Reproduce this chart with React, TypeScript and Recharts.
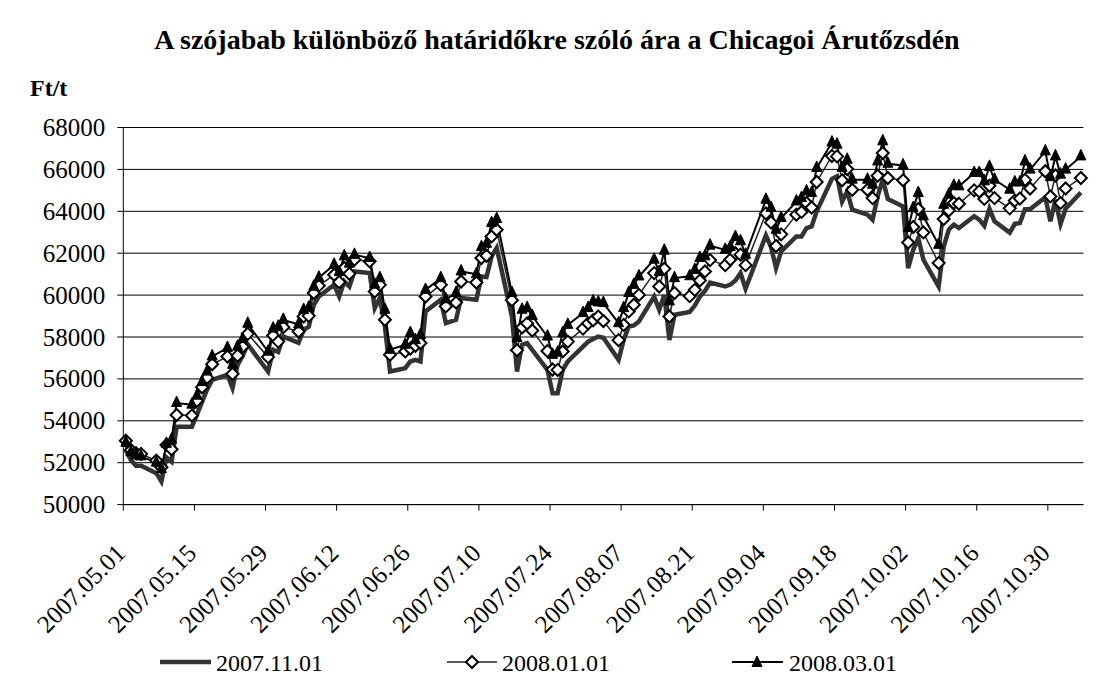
import React from "react";
import { LineChart, Line, XAxis, YAxis, CartesianGrid } from "recharts";

// trading days (Chicago Board of Trade), 2007
const dates = [
  "2007.05.01", "2007.05.02", "2007.05.03", "2007.05.04", "2007.05.07", "2007.05.08", "2007.05.09", "2007.05.10", "2007.05.11",
  "2007.05.14", "2007.05.15", "2007.05.16", "2007.05.17", "2007.05.18", "2007.05.21", "2007.05.22", "2007.05.23", "2007.05.24",
  "2007.05.25", "2007.05.29", "2007.05.30", "2007.05.31",
  "2007.06.01", "2007.06.04", "2007.06.05", "2007.06.06", "2007.06.07", "2007.06.08", "2007.06.11", "2007.06.12", "2007.06.13",
  "2007.06.14", "2007.06.15", "2007.06.18", "2007.06.19", "2007.06.20", "2007.06.21", "2007.06.22", "2007.06.25", "2007.06.26",
  "2007.06.27", "2007.06.28", "2007.06.29",
  "2007.07.02", "2007.07.03", "2007.07.05", "2007.07.06", "2007.07.09", "2007.07.10", "2007.07.11", "2007.07.12", "2007.07.13",
  "2007.07.16", "2007.07.17", "2007.07.18", "2007.07.19", "2007.07.20", "2007.07.23", "2007.07.24", "2007.07.25", "2007.07.26",
  "2007.07.27", "2007.07.30", "2007.07.31",
  "2007.08.01", "2007.08.02", "2007.08.03", "2007.08.06", "2007.08.07", "2007.08.08", "2007.08.09", "2007.08.10", "2007.08.13",
  "2007.08.14", "2007.08.15", "2007.08.16", "2007.08.17", "2007.08.20", "2007.08.21", "2007.08.22", "2007.08.23", "2007.08.24",
  "2007.08.27", "2007.08.28", "2007.08.29", "2007.08.30", "2007.08.31",
  "2007.09.04", "2007.09.05", "2007.09.06", "2007.09.07", "2007.09.10", "2007.09.11", "2007.09.12", "2007.09.13", "2007.09.14",
  "2007.09.17", "2007.09.18", "2007.09.19", "2007.09.20", "2007.09.21", "2007.09.24", "2007.09.25", "2007.09.26", "2007.09.27",
  "2007.09.28",
  "2007.10.01", "2007.10.02", "2007.10.03", "2007.10.04", "2007.10.05", "2007.10.08", "2007.10.09", "2007.10.10", "2007.10.11",
  "2007.10.12", "2007.10.15", "2007.10.16", "2007.10.17", "2007.10.18", "2007.10.19", "2007.10.22", "2007.10.23", "2007.10.24",
  "2007.10.25", "2007.10.26", "2007.10.29", "2007.10.30", "2007.10.31",
  "2007.11.01", "2007.11.02", "2007.11.05",
];

// Ft/t, contract 2007.11.01
const nov01 = [
  52600, 52130, 51850, 51850, 51500, 51100, 52250, 52050, 53720, 53720, 54300, 54900, 55500, 55950, 56190, 55570, 56670, 57100, 57650, 56350, 57390, 57290,
  58020, 57720, 58340, 58490, 59540, 59930, 60490, 59930, 60650, 60410, 61130, 61050, 59380, 59860, 58500, 56350, 56510, 56830, 56910, 56830, 59220,
  59780, 58660, 58820, 59860, 59780, 60890, 60860, 61850, 62250, 58980, 56350, 57630, 57710, 57390, 56430, 55320, 55320, 56430, 56830, 57540, 57780,
  57900, 58020, 57960, 56910, 57860, 58500, 58550, 58740, 59930, 59300, 60010, 57860, 59060, 59200, 59500, 59930, 60200, 60600, 60410, 60500, 60700, 61050, 60300,
  62850, 62300, 61290, 62080, 62800, 62800, 63200, 63280, 64000, 65550, 65670, 64470, 64950, 64080, 63840, 63600, 64710, 65510, 64590,
  64230, 61290, 62160, 62720, 61690, 60410, 62320, 63120, 63360, 63200, 63760, 63600, 63310, 64120, 63520, 62980, 63400, 63440, 64100, 64100, 64670, 63520, 64550,
  63400, 64120, 64900,
];

// contract 2008.01.01
const jan01 = [
  53050, 52610, 52450, 52420, 52100, 51780, 52850, 52640, 54280, 54250, 54960, 55600, 56060, 56700, 57070, 56240, 57110, 57540, 58150, 57040, 58070, 57780,
  58470, 58260, 58980, 59010, 60100, 60450, 60970, 60620, 61290, 61020, 61690, 61610, 60170, 60490, 58820, 57150, 57310, 57450, 57580, 57710, 59930,
  60490, 59460, 59650, 60650, 60600, 61770, 61880, 62800, 63120, 59760, 57370, 58450, 58650, 58310, 57330, 56450, 56430, 57310, 57780, 58400, 58650,
  58800, 58980, 58760, 57850, 58580, 59220, 59540, 60010, 61050, 60410, 61260, 58980, 60100, 59950, 60250, 60700, 61130, 61670, 61430, 61700, 62000, 61930, 61430,
  63900, 63470, 62340, 62900, 63840, 63970, 64400, 64180, 65400, 66640, 66620, 65480, 66020, 65030, 65030, 64630, 65700, 66780, 65590,
  65480, 62510, 63250, 64110, 62990, 61530, 63630, 64040, 64400, 64360, 65000, 64950, 64590, 65220, 64630, 64140, 64510, 64610, 65500, 65090, 65910, 64710, 65710,
  64400, 65090, 65590,
];

// contract 2008.03.01
const mar01 = [
  52950, 52500, 52350, 52300, 52000, 51700, 52900, 53100, 54850, 54770, 55200, 55850, 56350, 57070, 57480, 56670, 57540, 57900, 58630, 57300, 58400, 58490,
  58820, 58600, 59290, 59400, 60400, 60830, 61450, 61100, 61850, 61500, 61920, 61770, 60500, 60810, 59300, 57390, 57630, 58190, 57850, 58100, 60250,
  60810, 59800, 60100, 61130, 61000, 62290, 62450, 63440, 63630, 60100, 57950, 59300, 59380, 59000, 58020, 57150, 57250, 58180, 58580, 59140, 59380,
  59700, 59650, 59620, 58660, 59380, 60100, 60490, 60890, 61690, 61100, 62120, 59700, 60810, 60900, 61200, 61770, 61850, 62360, 62160, 62300, 62770, 62570, 61930,
  64550, 64160, 63120, 63680, 64470, 64630, 64950, 64870, 66070, 67280, 67180, 66070, 66460, 65510, 65510, 65270, 66380, 67340, 66270,
  66190, 63200, 64150, 64870, 63760, 62400, 64310, 64790, 65220, 65190, 65830, 65830, 65430, 66120, 65510, 65030, 65380, 65380, 66380, 65990, 66860, 65630, 66620,
  65750, 65990, 66620,
];

const xTickLabels = [
  "2007.05.01", "2007.05.15", "2007.05.29", "2007.06.12", "2007.06.26", "2007.07.10", "2007.07.24",
  "2007.08.07", "2007.08.21", "2007.09.04", "2007.09.18", "2007.10.02", "2007.10.16", "2007.10.30",
];
const yTicks = [50000, 52000, 54000, 56000, 58000, 60000, 62000, 64000, 66000, 68000];

const START = Date.UTC(2007, 4, 1);
const dayOf = (s: string) => {
  const [y, m, d] = s.split(".").map(Number);
  return Math.round((Date.UTC(y, m - 1, d) - START) / 86400000);
};

// points sit in the middle of their day slot, like Excel's date axis
const data = dates.map((d, i) => ({
  day: dayOf(d) + 0.5,
  nov01: nov01[i],
  jan01: jan01[i],
  mar01: mar01[i],
}));
const xTicks = xTickLabels.map(dayOf);

const FONT = "Liberation Serif, DejaVu Serif, serif";
const txt = { fontFamily: FONT };

const XTick = ({ x, y, payload }: any) => {
  const label = xTickLabels[xTicks.indexOf(payload.value)];
  const tx = x + 3.5;
  const ty = y + 42;
  return (
    <text x={tx} y={ty} transform={`rotate(-45 ${tx} ${ty})`} textAnchor="end" fontSize={25} style={txt} fill="#000">
      {label}
    </text>
  );
};

const YTick = ({ x, y, payload }: any) => (
  <text x={x - 3} y={y + 8.5} textAnchor="end" fontSize={25} style={txt} fill="#000">
    {payload.value}
  </text>
);

const Diamond = ({ cx, cy, index }: any) => {
  if (cx == null || cy == null) return <g key={index} />;
  const r = 6;
  return (
    <path
      key={index}
      d={`M${cx} ${cy - r}L${cx + r} ${cy}L${cx} ${cy + r}L${cx - r} ${cy}Z`}
      fill="#fff"
      stroke="#000"
      strokeWidth={2}
    />
  );
};

const Triangle = ({ cx, cy, index }: any) => {
  if (cx == null || cy == null) return <g key={index} />;
  return <path key={index} d={`M${cx} ${cy - 7}L${cx + 5} ${cy + 3.5}L${cx - 5} ${cy + 3.5}Z`} fill="#000" stroke="#000" strokeWidth={1} />;
};

export default function App() {
  return (
    <div style={{ position: "relative", width: 1104, height: 681, margin: -8, background: "#fff", fontFamily: FONT }}>
      <LineChart width={1104} height={681} data={data} margin={{ top: 127.5, right: 20.6, bottom: 76.4, left: 23.3 }}>
        <CartesianGrid vertical={false} stroke="#000" strokeWidth={1} />
        <XAxis
          dataKey="day"
          type="number"
          domain={[0, 189]}
          ticks={xTicks}
          interval={0}
          height={100}
          tickSize={6}
          tickLine={{ stroke: "#000" }}
          axisLine={{ stroke: "#000" }}
          tick={<XTick />}
        />
        <YAxis
          domain={[50000, 68000]}
          ticks={yTicks}
          interval={0}
          width={100}
          tickSize={6}
          tickMargin={9}
          tickLine={{ stroke: "#000" }}
          axisLine={{ stroke: "#000" }}
          tick={<YTick />}
        />
        <Line type="linear" dataKey="nov01" stroke="#333333" strokeWidth={4.5} dot={false} isAnimationActive={false} />
        <Line type="linear" dataKey="jan01" stroke="#222" strokeWidth={1.5} dot={<Diamond />} isAnimationActive={false} />
        <Line type="linear" dataKey="mar01" stroke="#000" strokeWidth={2} dot={<Triangle />} isAnimationActive={false} />
      </LineChart>
      <svg width={1104} height={681} style={{ position: "absolute", left: 0, top: 0, pointerEvents: "none" }}>
        <line x1={7.5} y1={0} x2={7.5} y2={681} stroke="#000" strokeWidth={1} />
        <text x={557} y={49} textAnchor="middle" fontSize={28} fontWeight="bold" style={txt} fill="#000">
          A szójabab különböző határidőkre szóló ára a Chicagoi Árutőzsdén
        </text>
        <text x={30} y={96} fontSize={24} fontWeight="bold" style={txt} fill="#000">
          Ft/t
        </text>
        <line x1={160} y1={662} x2={211} y2={662} stroke="#333333" strokeWidth={4.5} />
        <text x={216} y={671} fontSize={24} style={txt} fill="#000">2007.11.01</text>
        <line x1={447} y1={662} x2={497} y2={662} stroke="#222" strokeWidth={1.5} />
        <Diamond cx={472} cy={662} index={0} />
        <text x={502} y={671} fontSize={24} style={txt} fill="#000">2008.01.01</text>
        <line x1={732} y1={662} x2={783} y2={662} stroke="#000" strokeWidth={2} />
        <Triangle cx={757} cy={663} index={0} />
        <text x={789} y={671} fontSize={24} style={txt} fill="#000">2008.03.01</text>
      </svg>
    </div>
  );
}
